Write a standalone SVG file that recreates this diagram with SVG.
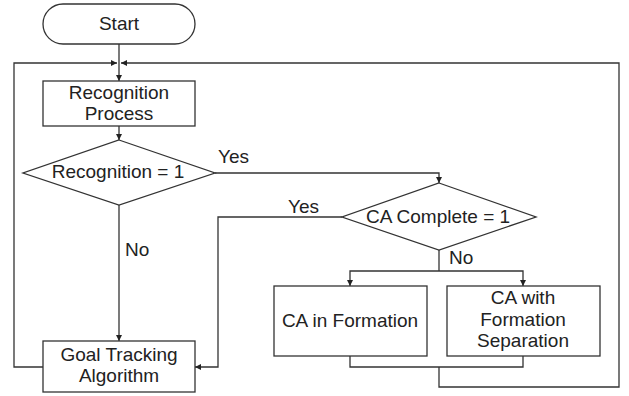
<svg xmlns="http://www.w3.org/2000/svg" width="629" height="396" viewBox="0 0 629 396">
<defs>
<marker id="ah" viewBox="0 0 6 6" refX="6" refY="3" markerWidth="6" markerHeight="6" markerUnits="userSpaceOnUse" orient="auto">
<path d="M0,0 L6,3 L0,6 z" fill="#222"/>
</marker>
<style>
.s{fill:#fff;stroke:#333;stroke-width:1.3}
.c{fill:none;stroke:#333;stroke-width:1.3}
.a{marker-end:url(#ah)}
text{font-family:"Liberation Sans",Arial,sans-serif;font-size:19px;fill:#222}
.m{text-anchor:middle}
</style>
</defs>
<rect width="629" height="396" fill="#fff"/>
<g id="connectors">
<path class="c a" d="M119,44 V81"/>
<path class="c a" d="M43,367 H14 V63 H117"/>
<path class="c a" d="M439,367 V387 H619 V63 H121"/>
<path class="c a" d="M119,126 V140"/>
<path class="c a" d="M215,173 H439 V183"/>
<path class="c a" d="M119,205 V341"/>
<path class="c a" d="M342,217 H218 V367 H195"/>
<path class="c" d="M439,250 V271"/>
<path class="c a" d="M439,271 H350 V286"/>
<path class="c a" d="M439,271 H523 V286"/>
<path class="c" d="M350,356 V367 H523 V356"/>
<text x="218" y="163">Yes</text>
<text x="288" y="213">Yes</text>
<text x="125" y="256">No</text>
<text x="449" y="264">No</text>
</g>
<g id="start">
<rect class="s" x="43" y="4" width="152" height="40" rx="20"/>
<text class="m" x="119" y="30">Start</text>
</g>
<g id="recognition-process">
<rect class="s" x="43" y="81" width="152" height="45"/>
<text class="m" x="119" y="99">Recognition</text>
<text class="m" x="119" y="120">Process</text>
</g>
<g id="recognition-decision">
<path class="s" d="M119,140 L215,173 L119,205 L23,173 z"/>
<text class="m" x="118" y="178">Recognition = 1</text>
</g>
<g id="ca-complete-decision">
<path class="s" d="M439,183 L536,217 L439,250 L342,217 z"/>
<text class="m" x="438" y="223">CA Complete = 1</text>
</g>
<g id="ca-in-formation">
<rect class="s" x="274" y="286" width="153" height="70"/>
<text class="m" x="350" y="327">CA in Formation</text>
</g>
<g id="ca-with-separation">
<rect class="s" x="447" y="286" width="153" height="70"/>
<text class="m" x="523" y="304">CA with</text>
<text class="m" x="523" y="326">Formation</text>
<text class="m" x="523" y="347">Separation</text>
</g>
<g id="goal-tracking">
<rect class="s" x="43" y="341" width="152" height="51"/>
<text class="m" x="119" y="361">Goal Tracking</text>
<text class="m" x="119" y="382">Algorithm</text>
</g>
</svg>
